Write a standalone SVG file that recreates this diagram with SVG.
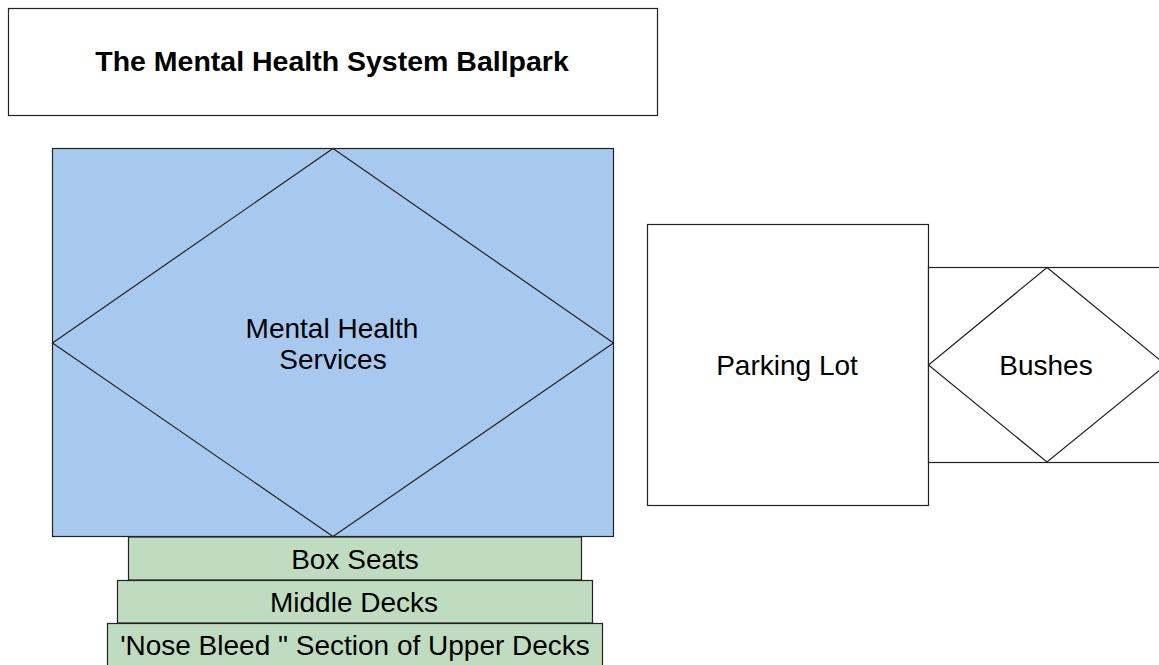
<svg xmlns="http://www.w3.org/2000/svg" width="1159" height="665" viewBox="0 0 1159 665">
<style>
.s{stroke:#222;stroke-width:1.2;}
text{font-family:'Liberation Sans',Arimo,Arial,sans-serif;font-size:28px;fill:#000;text-anchor:middle;}
.b{font-weight:bold;font-size:28.5px;}
</style>
<rect width="1159" height="665" fill="#fff"/>
<g id="title"><rect class="s" x="8.5" y="8.5" width="649" height="107" fill="#fff"/><text class="b" x="332" y="71">The Mental Health System Ballpark</text></g>
<g id="mhs"><rect class="s" x="52.5" y="148.5" width="561" height="388" fill="#a8c9ef"/><polygon class="s" points="333,148.5 613.5,343 333,536.5 52.5,343" fill="none" stroke-width="1"/><text x="332" y="338">Mental Health</text><text x="333" y="369">Services</text></g>
<g id="box"><rect class="s" x="128.5" y="537" width="453" height="43" fill="#c0dcc0"/><text x="355" y="568.5">Box Seats</text></g>
<g id="middle"><rect class="s" x="117.5" y="580.5" width="475" height="42.5" fill="#c0dcc0"/><text x="354" y="612">Middle Decks</text></g>
<g id="nose"><rect class="s" x="107.5" y="623.5" width="495" height="50" fill="#c0dcc0"/><text x="355" y="655">'Nose Bleed " Section of Upper Decks</text></g>
<g id="parking"><rect class="s" x="647.5" y="224.5" width="281" height="281" fill="#fff"/><text x="787" y="375">Parking Lot</text></g>
<g id="bushes"><rect class="s" x="928.5" y="267.5" width="240" height="195" fill="#fff"/><polygon class="s" points="1047,267.5 1166,365 1047,462 928.5,365" fill="none" stroke-width="1"/><text x="1046" y="375">Bushes</text></g>
<g id="connectors"></g>
</svg>
